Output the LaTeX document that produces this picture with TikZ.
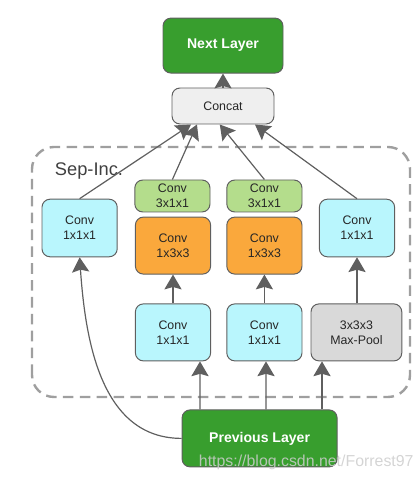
\documentclass[tikz,border=0pt]{standalone}
\usepackage{fontspec}
\setmainfont{Liberation Sans}
\usetikzlibrary{arrows.meta}

\definecolor{layergreen}{RGB}{56,158,46}
\definecolor{convcyan}{RGB}{185,246,253}
\definecolor{seplime}{RGB}{180,221,140}
\definecolor{sporange}{RGB}{250,168,60}
\definecolor{poolgray}{RGB}{217,217,217}
\definecolor{catgray}{RGB}{239,239,239}
\definecolor{edgegray}{RGB}{95,95,95}

\begin{document}
\begin{tikzpicture}[
    block/.style={rectangle,rounded corners=0.2cm,draw=edgegray,line width=0.7pt,
        align=center,text=black!85,font=\fontsize{8.8}{10.7}\selectfont,
        inner sep=0pt,minimum width=1.88cm,minimum height=1.44cm},
    layer/.style={block,fill=layergreen,text=white,
        font=\fontsize{10}{12}\selectfont\bfseries},
    conv/.style={block,fill=convcyan},
    sepconv/.style={block,fill=seplime,minimum height=0.8cm},
    spconv/.style={block,fill=sporange},
    pool/.style={block,fill=poolgray,minimum width=2.27cm},
    arr/.style={draw=edgegray,line width=0.85pt,
        -{Stealth[length=3.7mm,width=4.3mm,inset=0.6mm]}}
]
\useasboundingbox (0,0) rectangle (10.475,12);

% Ramka modułu
\draw[gray!75,line width=1.7pt,dash pattern=on 7.5pt off 4.5pt,rounded corners=0.55cm]
    (0.8,2.075) rectangle (10.25,8.325);
\node[anchor=west,text=gray!150,font=\fontsize{13}{15}\selectfont] (sepinc) at (1.25,7.72) {Sep-Inc.};

% Warstwy wejścia i wyjścia
\node[layer,minimum width=3cm,minimum height=1.375cm] (next) at (5.575,10.86) {Next Layer};
\node[block,fill=catgray,minimum width=2.55cm,minimum height=0.9cm] (concat) at (5.575,9.35) {Concat};
\node[layer,minimum width=3.875cm,minimum height=1.425cm] (prev) at (6.49,1.04) {Previous Layer};

% Gałęzie
\node[conv] (convL) at (1.99,6.3) {Conv\\1x1x1};
\node[sepconv] (sepA) at (4.31,7.1) {Conv\\3x1x1};
\node[spconv,minimum height=1.425cm] (spA) at (4.325,5.86) {Conv\\1x3x3};
\node[conv,minimum height=1.425cm] (redA) at (4.325,3.69) {Conv\\1x1x1};
\node[sepconv] (sepB) at (6.61,7.1) {Conv\\3x1x1};
\node[spconv,minimum height=1.425cm] (spB) at (6.61,5.86) {Conv\\1x3x3};
\node[conv,minimum height=1.425cm] (redB) at (6.61,3.69) {Conv\\1x1x1};
\node[conv] (convR) at (8.925,6.3) {Conv\\1x1x1};
\node[pool,minimum height=1.425cm] (maxpool) at (8.91,3.69) {3x3x3\\Max-Pool};

% Krawędzie od wejścia
\draw[arr] (prev.west) to[out=180,in=-86] (convL.south);
\draw[arr] ([xshift=-1.49cm]prev.north) -- ([xshift=0.675cm]redA.south);
\draw[arr] ([xshift=0.16cm]prev.north) -- ([xshift=0.04cm]redB.south);
\draw[arr] ([xshift=1.56cm]prev.north) -- ([xshift=-0.86cm]maxpool.south);

% Krawędzie wewnątrz gałęzi
\draw[arr] (redA) -- (spA);
\draw[arr] (redB) -- (spB);
\draw[arr] (maxpool.north -| convR.south) -- (convR.south);

% Krawędzie do Concat
\draw[arr] (convL.north) -- ([xshift=-0.8cm]concat.south);
\draw[arr] (sepA.north) -- ([xshift=-0.65cm]concat.south);
\draw[arr] (sepB.north) -- ([xshift=-0.08cm]concat.south);
\draw[arr] (convR.north) -- ([xshift=0.8cm]concat.south);
\draw[arr] (concat) -- (next);

% Znak wodny
\node[anchor=west,text={rgb,255:red,205;green,205;blue,205},text opacity=0.85,
    font=\fontsize{11.3}{13}\selectfont] (mark) at (4.85,0.45) {https://blog.csdn.net/Forrest97};
\end{tikzpicture}
\end{document}
